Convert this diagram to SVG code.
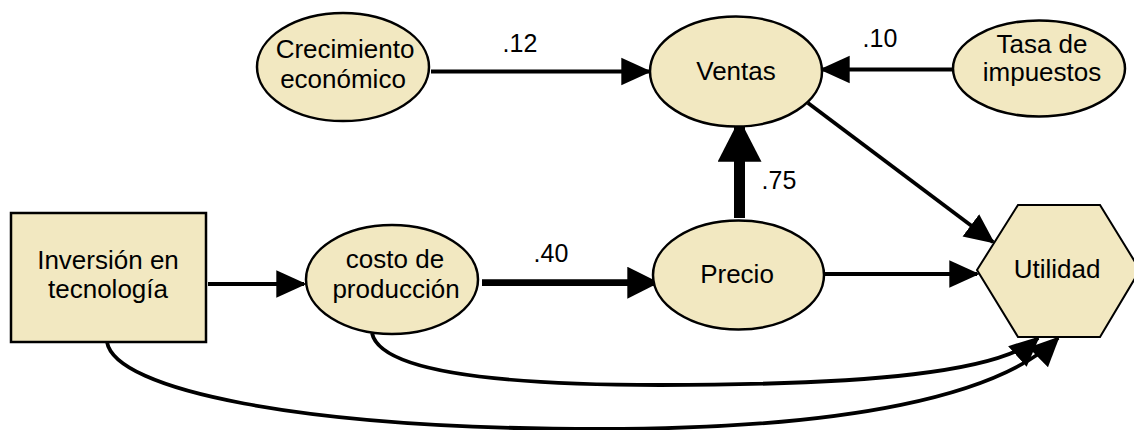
<svg xmlns="http://www.w3.org/2000/svg" width="1134" height="430" viewBox="0 0 1134 430">
<style>
.node{fill:#F2E8C1;stroke:#000;stroke-width:2.5}
.hex{fill:#F2E8C1;stroke:#000;stroke-width:2}
text{font-family:"Liberation Sans",Arial,sans-serif;font-size:26px;fill:#000;text-anchor:middle}
.lbl{font-size:25px}
.c{fill:none;stroke:#000;stroke-width:3.8}
</style>
<defs>
<marker id="ah" markerUnits="userSpaceOnUse" markerWidth="30" markerHeight="30" viewBox="0 0 26 24" refX="24" refY="12" orient="auto">
<path d="M0,0 L26,12 L0,24 Z" fill="#000"/>
</marker>
<marker id="ahm" markerUnits="userSpaceOnUse" markerWidth="32" markerHeight="32" viewBox="0 0 28 28" refX="26" refY="14" orient="auto">
<path d="M0,0 L28,14 L0,28 Z" fill="#000"/>
</marker>
<marker id="ahl" markerUnits="userSpaceOnUse" markerWidth="44" markerHeight="44" viewBox="0 0 41 42" refX="39" refY="21" orient="auto">
<path d="M0,0 L41,21 L0,42 Z" fill="#000"/>
</marker>
</defs>
<g id="connectors">
<path class="c" d="M431,71.5 L649,71.5" marker-end="url(#ah)"/>
<path class="c" d="M953,69.5 L822,69.5" marker-end="url(#ah)"/>
<path class="c" d="M808,103 L993,242" marker-end="url(#ah)"/>
<path class="c" d="M825,274 L977,274" marker-end="url(#ah)"/>
<path class="c" d="M208,284 L304,284" marker-end="url(#ah)"/>
<path fill="none" stroke="#000" stroke-width="6.7" d="M482,282.7 L657,282.7" marker-end="url(#ahm)"/>
<path fill="none" stroke="#000" stroke-width="11" d="M739.5,218 L739.5,121" marker-end="url(#ahl)"/>
<path class="c" d="M372,333 C380,372 500,385 660,385 C870,385 1000,372 1038,338" marker-end="url(#ah)"/>
<path class="c" d="M107,342 C115,390 300,429 600,429 C850,429 1000,395 1058,338" marker-end="url(#ah)"/>
<text class="lbl" x="520" y="52">.12</text>
<text class="lbl" x="880" y="47">.10</text>
<text class="lbl" x="779" y="189">.75</text>
<text class="lbl" x="551" y="262">.40</text>
</g>
<g id="crecimiento">
<ellipse class="node" cx="343" cy="67" rx="86" ry="54"/>
<text x="345" y="58">Crecimiento</text>
<text x="343" y="88">económico</text>
</g>
<g id="ventas">
<ellipse class="node" cx="736" cy="71.5" rx="86" ry="55"/>
<text x="736" y="80">Ventas</text>
</g>
<g id="tasa">
<ellipse class="node" cx="1039" cy="68.5" rx="86" ry="48"/>
<text x="1042" y="53">Tasa de</text>
<text x="1042" y="81">impuestos</text>
</g>
<g id="inversion">
<rect class="node" x="11" y="213" width="195" height="129"/>
<text x="108" y="269">Inversión en</text>
<text x="108" y="298">tecnología</text>
</g>
<g id="costo">
<ellipse class="node" cx="392" cy="279.5" rx="86" ry="54.5"/>
<text x="395" y="268">costo de</text>
<text x="396" y="298">producción</text>
</g>
<g id="precio">
<ellipse class="node" cx="738.5" cy="275" rx="85.5" ry="54.5"/>
<text x="737" y="283">Precio</text>
</g>
<g id="utilidad">
<polygon class="hex" points="977,270 1018,205 1100,205 1140,270 1100,337 1018,337"/>
<text x="1057" y="278">Utilidad</text>
</g>
</svg>
